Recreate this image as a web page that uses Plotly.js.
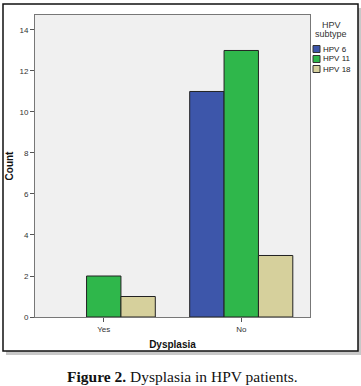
<!DOCTYPE html>
<html>
<head>
<meta charset="utf-8">
<script src="https://cdn.plot.ly/plotly-3.0.1.min.js"></script>
<style>html,body{margin:0;padding:0;background:#fff;}#chart{width:361px;height:386px;}</style>
</head>
<body>
<div id="chart"></div>
<script>
// Data
const categories = ['Yes', 'No'];
const seriesNames = ['HPV 6', 'HPV 11', 'HPV 18'];
const hpv6 = [0, 11];
const hpv11 = [2, 13];
const hpv18 = [1, 3];
const yTicks = [0, 2, 4, 6, 8, 10, 12, 14];
const legendTitleLines = ['HPV', 'subtype'];
const xTitle = 'Dysplasia';
const yTitle = 'Count';
const caption = '<b>Figure 2.</b> Dysplasia in HPV patients.';

const colors = ['#3d56aa', '#2fb74b', '#d6d09c'];
const seriesValues = [hpv6, hpv11, hpv18];

const W = 361, H = 386;
const L = 35, R = 51, T = 15, B = 69;
const pw = W - L - R, ph = H - T - B;
const px = x => (x - L) / pw;
const py = y => (H - B - y) / ph;

const traces = seriesNames.map((name, i) => ({
  type: 'bar',
  name: name,
  x: categories,
  y: seriesValues[i],
  marker: {color: colors[i], line: {color: '#222', width: seriesValues[i].map(v => v > 0 ? 1 : 0)}},
  showlegend: false,
  hoverinfo: 'skip'
}));

const shapes = [
  // shadow
  {type: 'rect', xref: 'paper', yref: 'paper', x0: px(6), x1: px(361), y0: py(355), y1: py(351), fillcolor: '#c8c8c8', line: {width: 0}},
  {type: 'rect', xref: 'paper', yref: 'paper', x0: px(358), x1: px(361), y0: py(355), y1: py(8), fillcolor: '#c8c8c8', line: {width: 0}},
  // frame
  {type: 'rect', xref: 'paper', yref: 'paper', x0: px(3), x1: px(358), y0: py(351), y1: py(4), line: {color: '#111', width: 1.5}, fillcolor: 'rgba(0,0,0,0)'}
];

const annotations = [
  {xref: 'paper', yref: 'paper', x: px(182), y: py(377), text: caption, showarrow: false,
   xanchor: 'center', yanchor: 'middle', font: {family: 'Liberation Serif, Times New Roman', size: 15.5, color: '#111'}}
];

legendTitleLines.forEach((t, i) => {
  annotations.push({xref: 'paper', yref: 'paper', x: px(331), y: py(25 + i * 9), text: t, showarrow: false,
    xanchor: 'center', yanchor: 'middle', font: {family: 'Liberation Sans, Arial', size: 9, color: '#333'}});
});

seriesNames.forEach((name, i) => {
  const cy = 49 + i * 10;
  shapes.push({type: 'rect', xref: 'paper', yref: 'paper', x0: px(313), x1: px(320), y0: py(cy + 3.5), y1: py(cy - 3.5),
    fillcolor: colors[i], line: {color: '#333', width: 1}});
  annotations.push({xref: 'paper', yref: 'paper', x: px(320.5), y: py(cy), text: name, showarrow: false,
    xanchor: 'left', yanchor: 'middle', font: {family: 'Liberation Sans, Arial', size: 8, color: '#222'}});
});

const layout = {
  width: W, height: H,
  margin: {l: L, r: R, t: T, b: B, pad: 0},
  paper_bgcolor: '#fff',
  plot_bgcolor: '#f0f0f0',
  barmode: 'group',
  bargap: 0.25,
  bargroupgap: 0,
  font: {family: 'Liberation Sans, Arial', size: 8, color: '#333'},
  xaxis: {
    type: 'category', range: [-0.5, 1.5], showgrid: false, zeroline: false,
    showline: true, linecolor: '#777', linewidth: 1, mirror: true,
    ticks: 'outside', ticklen: 4, tickcolor: '#555',
    tickfont: {size: 8, color: '#333'},
    title: {text: '<b>' + xTitle + '</b>', standoff: 8, font: {size: 10, color: '#111'}}
  },
  yaxis: {
    range: [0, 14.73], tickvals: yTicks, showgrid: false, zeroline: false,
    showline: true, linecolor: '#777', linewidth: 1, mirror: true,
    ticks: 'outside', ticklen: 4, tickcolor: '#555',
    tickfont: {size: 8, color: '#333'},
    title: {text: '<b>' + yTitle + '</b>', standoff: 3, font: {size: 10, color: '#111'}}
  },
  shapes: shapes,
  annotations: annotations
};

Plotly.newPlot('chart', traces, layout, {displayModeBar: false, staticPlot: true});
</script>
</body>
</html>
